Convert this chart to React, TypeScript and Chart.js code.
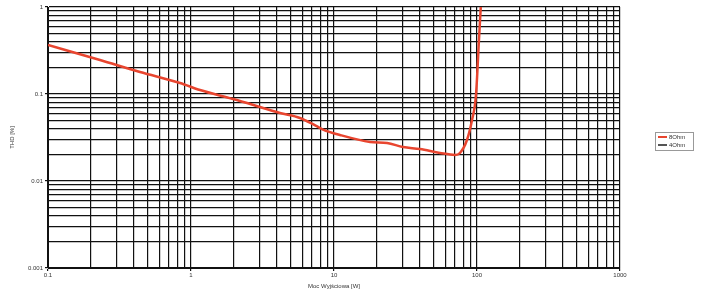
import React, { useEffect, useRef } from "react";
import { Chart, registerables } from "chart.js";

Chart.register(...registerables);

const powerW = [0.1, 0.231, 0.44, 0.838, 1.156, 1.967, 3.04, 4.19, 5.78, 7.13, 8.38, 11.0, 17.9, 23.5, 30.4, 39.9, 55.1, 70.2, 76.0, 85.1, 92.3, 98.4, 103.2, 106.6];
const thd8 = [0.366, 0.246, 0.179, 0.134, 0.111, 0.0876, 0.0709, 0.0605, 0.053, 0.045, 0.039, 0.0338, 0.0281, 0.0273, 0.0246, 0.0233, 0.021, 0.0199, 0.021, 0.0296, 0.0502, 0.0975, 0.418, 1.1];
const seriesNames = ["8Ohm", "4Ohm"];
const xTickLabels = ["0.1", "1", "10", "100", "1000"];
const yTickLabels = ["0.001", "0.01", "0.1", "1"];
const xTitle = "Moc Wyjściowa [W]";
const yTitle = "THD [%]";

function logTicks(min: number, max: number) {
  const out: { value: number }[] = [];
  for (let e = Math.round(Math.log10(min)); e < Math.round(Math.log10(max)); e++) {
    for (let m = 1; m < 10; m++) out.push({ value: +(m * Math.pow(10, e)).toPrecision(6) });
  }
  out.push({ value: max });
  return out;
}

function isDecade(v: number) {
  const l = Math.log10(v);
  return Math.abs(l - Math.round(l)) < 1e-9;
}

const legendPlugin = {
  id: "customLegend",
  afterDraw(chart: any) {
    const ctx = chart.ctx;
    const x = 655, y = 132, w = 38, h = 18;
    ctx.save();
    ctx.fillStyle = "#fff";
    ctx.fillRect(x, y, w, h);
    ctx.strokeStyle = "#999";
    ctx.lineWidth = 1;
    ctx.strokeRect(x + 0.5, y + 0.5, w, h);
    const colors = ["#e8452f", "#555"];
    ctx.font = "6px Arial, 'Liberation Sans', sans-serif";
    ctx.textBaseline = "middle";
    seriesNames.forEach((n, i) => {
      const ly = y + 5 + i * 8;
      ctx.strokeStyle = colors[i];
      ctx.lineWidth = 2;
      ctx.beginPath();
      ctx.moveTo(x + 3, ly);
      ctx.lineTo(x + 12, ly);
      ctx.stroke();
      ctx.fillStyle = "#333";
      ctx.fillText(n, x + 14, ly + 0.5);
    });
    ctx.restore();
  },
};

export default function App() {
  const ref = useRef<HTMLCanvasElement>(null);
  useEffect(() => {
    document.body.style.margin = "0";
    const canvas = ref.current!;
    const chart = new Chart(canvas, {
      type: "line",
      data: {
        datasets: [
          {
            label: seriesNames[0],
            data: powerW.map((x, i) => ({ x, y: thd8[i] })),
            borderColor: "#e8452f",
            borderWidth: 2.5,
            pointRadius: 0,
            cubicInterpolationMode: "monotone",
            fill: false,
          },
          {
            label: seriesNames[1],
            data: [],
            borderColor: "#555",
            borderWidth: 2,
            pointRadius: 0,
          },
        ],
      },
      options: {
        animation: false,
        responsive: false,
        maintainAspectRatio: false,
        layout: { padding: { top: 7, right: 85, left: 0, bottom: 0 } },
        plugins: {
          legend: { display: false },
          tooltip: { enabled: false },
        },
        scales: {
          x: {
            type: "logarithmic",
            min: 0.1,
            max: 1000,
            afterBuildTicks: (s: any) => {
              s.ticks = logTicks(0.1, 1000);
            },
            afterFit: (s: any) => {
              s.height = 22;
            },
            ticks: {
              autoSkip: false,
              maxRotation: 0,
              padding: 1,
              font: { size: 6, family: "Arial, 'Liberation Sans', sans-serif" },
              color: "#333",
              callback: (v: any) => {
                const n = Number(v);
                if (!isDecade(n)) return "";
                const idx = Math.round(Math.log10(n)) + 1;
                return xTickLabels[idx];
              },
            },
            grid: {
              color: "#111",
              lineWidth: 1.2,
              tickLength: 3,
              tickColor: (c: any) => (c.tick && isDecade(c.tick.value) ? "#111" : "rgba(0,0,0,0)"),
            },
            border: { color: "#111" },
            title: {
              display: true,
              text: xTitle,
              padding: { top: 0, bottom: 0 },
              font: { size: 6, family: "Arial, 'Liberation Sans', sans-serif" },
              color: "#333",
            },
          },
          y: {
            type: "logarithmic",
            min: 0.001,
            max: 1,
            afterBuildTicks: (s: any) => {
              s.ticks = logTicks(0.001, 1);
            },
            afterFit: (s: any) => {
              s.width = 48;
            },
            ticks: {
              autoSkip: false,
              padding: 2,
              font: { size: 6, family: "Arial, 'Liberation Sans', sans-serif" },
              color: "#333",
              callback: (v: any) => {
                const n = Number(v);
                if (!isDecade(n)) return "";
                const idx = Math.round(Math.log10(n)) + 3;
                return yTickLabels[idx];
              },
            },
            grid: {
              color: "#111",
              lineWidth: 1.2,
              tickLength: 3,
              tickColor: (c: any) => (c.tick && isDecade(c.tick.value) ? "#111" : "rgba(0,0,0,0)"),
            },
            border: { color: "#111" },
            title: {
              display: true,
              text: yTitle,
              padding: { top: 9, bottom: 0 },
              font: { size: 6, family: "Arial, 'Liberation Sans', sans-serif" },
              color: "#333",
            },
          },
        },
      },
      plugins: [legendPlugin],
    } as any);
    return () => chart.destroy();
  }, []);
  return (
    <div style={{ width: 705, height: 290, background: "#fff" }}>
      <canvas ref={ref} width={705} height={290} style={{ display: "block" }} />
    </div>
  );
}
